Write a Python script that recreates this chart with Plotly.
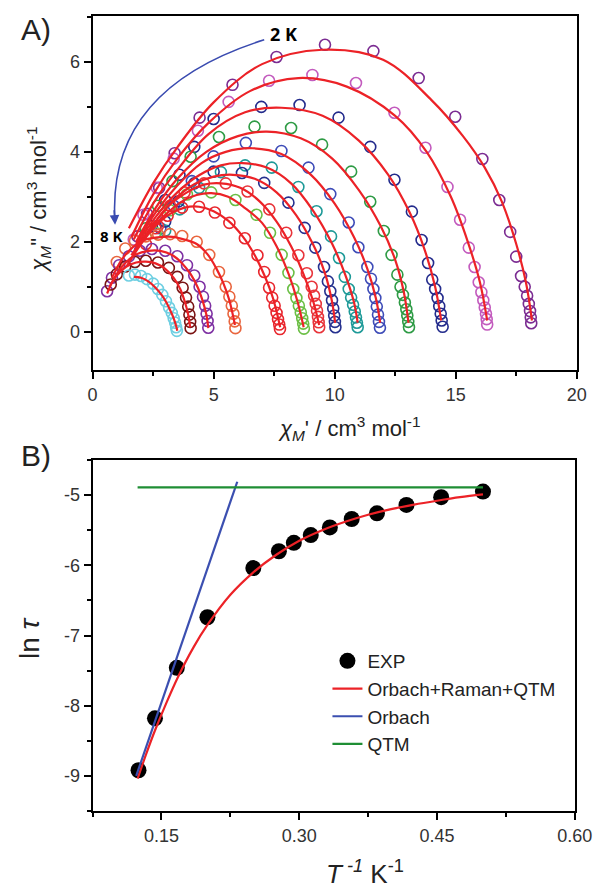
import plotly.graph_objects as go

# ---------------- Panel A data (Cole-Cole) ----------------
temps = [2.0, 2.2, 2.4, 2.6, 2.8, 3.0, 3.2, 3.4, 3.6, 4.0, 5.0, 6.0, 7.0, 8.0]
colors = ['#7B2C92', '#C35BBE', '#232B8C', '#2E9B45', '#3E4CB8', '#1E9A98', '#26318F',
          '#E8353B', '#6BBF45', '#E8262D', '#E9663F', '#7E31A3', '#7A1414', '#6FCFE2']

chi1_data = [
    [1.85, 2.25, 2.75, 3.39, 4.42, 5.78, 7.6, 9.6, 11.6, 13.47, 14.98, 16.1, 16.8, 17.25, 17.5, 17.7, 17.85, 17.95, 18.02, 18.07, 18.1, 18.12],
    [1.7, 2.1, 2.65, 3.35, 4.35, 5.62, 7.29, 9.08, 10.88, 12.47, 13.75, 14.66, 15.18, 15.54, 15.78, 15.95, 16.06, 16.14, 16.2, 16.25, 16.28, 16.3],
    [2.45, 3.0, 3.59, 4.2, 5.0, 6.97, 8.55, 10.16, 11.47, 12.47, 13.19, 13.59, 13.86, 14.03, 14.15, 14.25, 14.32, 14.38, 14.42, 14.46],
    [2.2, 2.7, 3.3, 4.05, 5.22, 6.69, 8.2, 9.48, 10.68, 11.47, 12.03, 12.35, 12.59, 12.72, 12.82, 12.9, 12.96, 13.0, 13.04, 13.07],
    [2.8, 3.35, 4.1, 5.0, 6.33, 7.8, 8.92, 9.82, 10.58, 10.98, 11.35, 11.5, 11.6, 11.68, 11.74, 11.79, 11.83, 11.87],
    [3.0, 3.6, 4.4, 5.3, 6.3, 7.4, 8.5, 9.25, 9.85, 10.18, 10.42, 10.58, 10.68, 10.76, 10.83, 10.88, 10.92, 10.95],
    [3.0, 3.55, 4.2, 5.0, 6.17, 7.09, 8.09, 8.76, 9.2, 9.56, 9.72, 9.82, 9.89, 9.94, 9.98, 10.01, 10.03],
    [2.7, 3.2, 3.8, 4.6, 5.5, 6.4, 7.3, 8.0, 8.5, 8.85, 9.05, 9.15, 9.22, 9.27, 9.31, 9.34, 9.36],
    [2.6, 3.2, 3.9, 4.9, 5.9, 6.77, 7.33, 7.81, 8.09, 8.29, 8.42, 8.52, 8.6, 8.66, 8.7, 8.73],
    [2.2, 2.6, 3.1, 3.7, 4.4, 5.05, 5.65, 6.29, 6.81, 7.09, 7.29, 7.42, 7.52, 7.6, 7.66, 7.71, 7.74],
    [1.0, 1.35, 1.75, 2.2, 2.71, 3.2, 3.7, 4.3, 4.82, 5.22, 5.5, 5.65, 5.75, 5.82, 5.87, 5.9],
    [0.6, 0.8, 1.1, 1.5, 1.95, 2.45, 3.0, 3.5, 3.9, 4.2, 4.42, 4.56, 4.65, 4.71, 4.75, 4.78],
    [0.75, 1.0, 1.35, 1.75, 2.2, 2.7, 3.15, 3.5, 3.72, 3.86, 3.95, 4.0, 4.03, 4.05],
    [1.5, 1.75, 2.0, 2.25, 2.5, 2.7, 2.88, 3.03, 3.16, 3.27, 3.35, 3.41, 3.45, 3.48],
]
chi2_data = [
    [2.12, 2.62, 3.2, 3.97, 4.76, 5.49, 6.11, 6.38, 6.24, 5.64, 4.78, 3.84, 2.93, 2.22, 1.67, 1.24, 1.0, 0.8, 0.62, 0.46, 0.32, 0.19],
    [2.05, 2.6, 3.2, 3.85, 4.47, 5.11, 5.58, 5.71, 5.53, 4.87, 4.09, 3.22, 2.49, 1.87, 1.44, 1.1, 0.88, 0.7, 0.54, 0.4, 0.28, 0.16],
    [2.35, 2.93, 3.49, 4.11, 4.73, 5.0, 5.04, 4.76, 4.11, 3.38, 2.67, 2.04, 1.53, 1.16, 0.95, 0.75, 0.57, 0.4, 0.25, 0.11],
    [2.3, 2.8, 3.35, 3.89, 4.33, 4.56, 4.53, 4.16, 3.56, 2.89, 2.24, 1.71, 1.27, 1.0, 0.82, 0.65, 0.5, 0.36, 0.22, 0.1],
    [2.3, 2.8, 3.35, 3.9, 4.2, 4.02, 3.65, 3.06, 2.43, 1.88, 1.44, 1.18, 0.95, 0.75, 0.56, 0.38, 0.22, 0.09],
    [2.25, 2.72, 3.2, 3.55, 3.7, 3.65, 3.22, 2.68, 2.12, 1.64, 1.22, 0.95, 0.76, 0.6, 0.45, 0.32, 0.2, 0.1],
    [2.45, 2.9, 3.3, 3.56, 3.53, 3.31, 2.87, 2.31, 1.87, 1.44, 1.12, 0.9, 0.7, 0.52, 0.36, 0.22, 0.1],
    [2.35, 2.8, 3.1, 3.3, 3.3, 3.12, 2.72, 2.2, 1.7, 1.3, 1.0, 0.8, 0.62, 0.47, 0.33, 0.21, 0.1],
    [2.2, 2.7, 3.05, 3.1, 2.93, 2.6, 2.2, 1.71, 1.31, 0.95, 0.75, 0.58, 0.43, 0.3, 0.18, 0.07],
    [1.95, 2.3, 2.58, 2.76, 2.78, 2.65, 2.42, 2.08, 1.7, 1.33, 0.98, 0.76, 0.58, 0.42, 0.28, 0.16, 0.06],
    [1.55, 1.85, 2.02, 2.12, 2.16, 2.17, 2.13, 2.0, 1.71, 1.33, 1.0, 0.78, 0.58, 0.4, 0.23, 0.08],
    [0.9, 1.2, 1.48, 1.68, 1.8, 1.84, 1.8, 1.68, 1.48, 1.25, 1.0, 0.78, 0.58, 0.4, 0.24, 0.09],
    [1.05, 1.28, 1.45, 1.55, 1.58, 1.54, 1.42, 1.22, 0.98, 0.76, 0.56, 0.38, 0.22, 0.08],
    [1.25, 1.27, 1.24, 1.17, 1.07, 0.95, 0.82, 0.68, 0.54, 0.42, 0.3, 0.2, 0.1, 0.02],
]

# fitted (generalized Debye) lines
chi1_fit = [
    [1.5, 2.5, 3.5, 5.0, 7.0, 9.5, 12.0, 14.0, 15.3, 16.2, 16.9, 17.5, 17.9, 18.15],
    [1.6, 2.5, 3.5, 4.8, 6.5, 8.5, 10.5, 12.5, 13.8, 14.8, 15.5, 16.0, 16.3],
    [1.7, 2.5, 3.5, 4.8, 6.3, 7.8, 9.5, 11.0, 12.2, 13.1, 13.7, 14.15, 14.4],
    [1.8, 2.6, 3.5, 4.7, 6.0, 7.2, 8.6, 9.9, 11.0, 11.9, 12.5, 12.85, 13.05],
    [1.8, 2.6, 3.5, 4.5, 5.5, 6.6, 7.8, 9.0, 10.0, 10.8, 11.35, 11.7, 11.88],
    [1.8, 2.6, 3.5, 4.4, 5.3, 6.2, 7.2, 8.2, 9.1, 9.9, 10.45, 10.8, 10.95],
    [1.8, 2.6, 3.4, 4.2, 5.0, 5.8, 6.7, 7.6, 8.4, 9.1, 9.6, 9.88, 10.02],
    [1.7, 2.4, 3.1, 3.9, 4.6, 5.3, 6.1, 6.9, 7.6, 8.2, 8.7, 9.1, 9.36],
    [1.6, 2.3, 3.0, 3.7, 4.3, 4.9, 5.6, 6.3, 7.0, 7.6, 8.1, 8.45, 8.72],
    [1.4, 2.0, 2.6, 3.2, 3.8, 4.4, 5.0, 5.6, 6.2, 6.7, 7.1, 7.45, 7.75],
    [0.8, 1.2, 1.7, 2.2, 2.7, 3.3, 3.8, 4.3, 4.75, 5.1, 5.4, 5.65, 5.88],
    [0.6, 0.9, 1.3, 1.8, 2.3, 2.8, 3.3, 3.7, 4.05, 4.35, 4.55, 4.7, 4.78],
    [0.7, 1.0, 1.4, 1.8, 2.2, 2.6, 3.0, 3.35, 3.62, 3.82, 3.95, 4.03],
    [1.71, 2.0, 2.3, 2.6, 2.85, 3.05, 3.22, 3.35, 3.44, 3.5],
]
chi2_fit = [
    [2.3, 3.3, 4.1, 5.1, 5.95, 6.27, 6.05, 5.15, 4.35, 3.65, 2.9, 1.95, 1.1, 0.25],
    [2.1, 3.05, 3.85, 4.65, 5.35, 5.64, 5.45, 4.8, 4.0, 3.0, 2.0, 1.1, 0.25],
    [2.05, 2.85, 3.6, 4.4, 4.88, 4.98, 4.8, 4.25, 3.5, 2.65, 1.85, 1.0, 0.25],
    [2.0, 2.75, 3.4, 4.0, 4.35, 4.45, 4.3, 3.85, 3.15, 2.35, 1.6, 0.9, 0.2],
    [1.95, 2.65, 3.25, 3.75, 4.0, 4.08, 3.95, 3.5, 2.85, 2.1, 1.4, 0.75, 0.2],
    [1.9, 2.55, 3.1, 3.48, 3.7, 3.75, 3.65, 3.3, 2.7, 1.95, 1.25, 0.65, 0.2],
    [1.85, 2.45, 2.95, 3.28, 3.45, 3.49, 3.4, 3.1, 2.6, 1.95, 1.3, 0.7, 0.2],
    [1.75, 2.3, 2.78, 3.1, 3.27, 3.3, 3.2, 2.9, 2.45, 1.9, 1.3, 0.7, 0.15],
    [1.7, 2.2, 2.6, 2.9, 3.04, 3.08, 3.0, 2.75, 2.42, 1.9, 1.28, 0.7, 0.1],
    [1.45, 1.95, 2.35, 2.62, 2.76, 2.78, 2.68, 2.47, 2.12, 1.7, 1.25, 0.75, 0.1],
    [1.2, 1.6, 1.9, 2.05, 2.1, 2.11, 2.05, 1.95, 1.72, 1.42, 1.08, 0.7, 0.15],
    [0.85, 1.2, 1.5, 1.72, 1.8, 1.8, 1.7, 1.52, 1.28, 0.98, 0.68, 0.38, 0.08],
    [1.0, 1.25, 1.45, 1.54, 1.56, 1.52, 1.4, 1.2, 0.95, 0.65, 0.38, 0.1],
    [1.22, 1.2, 1.12, 0.98, 0.82, 0.65, 0.46, 0.3, 0.15, 0.02],
]

# ---------------- Panel B data (Arrhenius) ----------------
inv_T = [0.125, 0.1429, 0.1667, 0.2, 0.25, 0.2778, 0.2941, 0.3125, 0.3333, 0.3571, 0.3846, 0.4167, 0.4545, 0.5]
ln_tau = [-8.92, -8.18, -7.46, -6.74, -6.04, -5.80, -5.68, -5.57, -5.46, -5.34, -5.26, -5.14, -5.03, -4.95]
fit_x = [0.124, 0.133, 0.143, 0.155, 0.168, 0.185, 0.2, 0.225, 0.25, 0.275, 0.3, 0.325, 0.35, 0.375, 0.4, 0.425, 0.45, 0.475, 0.5]
fit_y = [-9.04, -8.70, -8.35, -7.97, -7.59, -7.165, -6.85, -6.42, -6.1, -5.85, -5.65, -5.5, -5.38, -5.28, -5.2, -5.135, -5.08, -5.03, -4.99]
orbach_x = [0.1225, 0.2325]
orbach_y = [-9.0, -4.81]
qtm_x = [0.124, 0.50]
qtm_y = [-4.89, -4.89]

yA_ticks = [0, 2, 4, 6]
xA_ticks = [0, 5, 10, 15, 20]
xB_ticks = [0.15, 0.30, 0.45, 0.60]
yB_ticks = [-9, -8, -7, -6, -5]

FONT = "Liberation Sans, Arial, sans-serif"
RED = '#EC2227'
BLUE = '#3B4FB0'
GREEN = '#1F8E34'

fig = go.Figure()

for i, T in enumerate(temps):
    fig.add_trace(go.Scatter(x=chi1_data[i], y=chi2_data[i], mode='markers', xaxis='x', yaxis='y',
                             marker=dict(symbol='circle-open', size=11, color=colors[i],
                                         line=dict(width=1.6, color=colors[i])),
                             showlegend=False, name=f'{T} K'))
for i, T in enumerate(temps):
    fig.add_trace(go.Scatter(x=chi1_fit[i], y=chi2_fit[i], mode='lines', xaxis='x', yaxis='y',
                             line=dict(color=RED, width=2.2, shape='spline', smoothing=1.0),
                             showlegend=False, name=f'fit {T} K'))

fig.add_trace(go.Scatter(x=inv_T, y=ln_tau, mode='markers', xaxis='x2', yaxis='y2', name='EXP',
                         marker=dict(symbol='circle', size=16, color='black')))
fig.add_trace(go.Scatter(x=fit_x, y=fit_y, mode='lines', xaxis='x2', yaxis='y2', name='Orbach+Raman+QTM',
                         line=dict(color=RED, width=2.2, shape='spline')))
fig.add_trace(go.Scatter(x=orbach_x, y=orbach_y, mode='lines', xaxis='x2', yaxis='y2', name='Orbach',
                         line=dict(color=BLUE, width=2.2)))
fig.add_trace(go.Scatter(x=qtm_x, y=qtm_y, mode='lines', xaxis='x2', yaxis='y2', name='QTM',
                         line=dict(color=GREEN, width=2.2)))

axis_common = dict(showline=True, linecolor='black', linewidth=2, mirror=True,
                   ticks='outside', ticklen=7, tickwidth=2, tickcolor='black',
                   showgrid=False, zeroline=False,
                   tickfont=dict(family=FONT, size=18, color='#333333'))

W, H = 614, 891
fig.update_layout(
    width=W, height=H, margin=dict(l=0, r=0, t=0, b=0),
    paper_bgcolor='white', plot_bgcolor='white',
    xaxis=dict(domain=[91 / W, 594 / W], anchor='y', range=[0, 20],
               tickmode='array', tickvals=xA_ticks, ticktext=[str(v) for v in xA_ticks],
               minor=dict(ticks='outside', ticklen=4, tickwidth=2, dtick=2.5, tick0=0), **axis_common),
    yaxis=dict(domain=[1 - 370 / H, 1 - 16 / H], anchor='x', range=[-0.85, 7.02],
               tickmode='array', tickvals=yA_ticks, ticktext=[str(v) for v in yA_ticks],
               minor=dict(ticks='outside', ticklen=4, tickwidth=2, dtick=1, tick0=0), **axis_common),
    xaxis2=dict(domain=[91 / W, 592 / W], anchor='y2', range=[0.075, 0.60],
                tickmode='array', tickvals=xB_ticks, ticktext=[f'{v:.2f}' for v in xB_ticks],
                minor=dict(ticks='outside', ticklen=4, tickwidth=2, dtick=0.075, tick0=0.075), **axis_common),
    yaxis2=dict(domain=[1 - 811 / H, 1 - 460 / H], anchor='x2', range=[-9.5, -4.5],
                tickmode='array', tickvals=yB_ticks, ticktext=[f'-{abs(v)}' for v in yB_ticks],
                minor=dict(ticks='outside', ticklen=4, tickwidth=2, dtick=0.5, tick0=-9.5), **axis_common),
    legend=dict(x=335 / W, y=1 - 642 / H, xanchor='left', yanchor='top', bgcolor='rgba(0,0,0,0)',
                font=dict(family=FONT, size=19, color='#222222'), tracegroupgap=0),
    font=dict(family=FONT, color='#222222'),
)

def ann(text, px, py, size, angle=0, bold=False, color='#222222'):
    fig.add_annotation(text=text, x=px / W, y=1 - py / H, xref='paper', yref='paper',
                       showarrow=False, textangle=angle, xanchor='center', yanchor='middle',
                       font=dict(family=FONT if not bold else "Open Sans, Liberation Sans, sans-serif",
                                 size=size, color=color))

ann("A)", 32, 30, 30)
ann("B)", 32, 455, 30)
ann("<i>χ</i><sub><i>M</i></sub>' / cm<sup>3</sup> mol<sup>-1</sup>", 358, 428, 22)
ann("<i>χ</i><sub><i>M</i></sub>\" / cm<sup>3</sup> mol<sup>-1</sup>", 35, 200, 22, angle=-90)
ann("ln <i>τ</i>", 25, 638, 28, angle=-90)
ann("<i>T</i><sup><i> -1</i></sup> K<sup>-1</sup>", 374, 872, 26)
ann("<b>2 K</b>", 289, 34, 18, bold=True, color='black')
ann("<b>8 K</b>", 110, 236, 15, bold=True, color='black')

# curved arrow from 2 K to 8 K
ARROW = '#3A4BB0'
fig.add_shape(type='path', xref='x', yref='y',
              path="M 7.09,6.49 Q 0.62,5.4 0.92,2.5",
              line=dict(color=ARROW, width=1.6))
fig.add_annotation(x=0.93, y=2.38, xref='x', yref='y', text='', showarrow=True,
                   ax=-1, ay=-16, arrowhead=2, arrowsize=1.2, arrowwidth=1.6, arrowcolor=ARROW)

fig.write_html("out.html")
